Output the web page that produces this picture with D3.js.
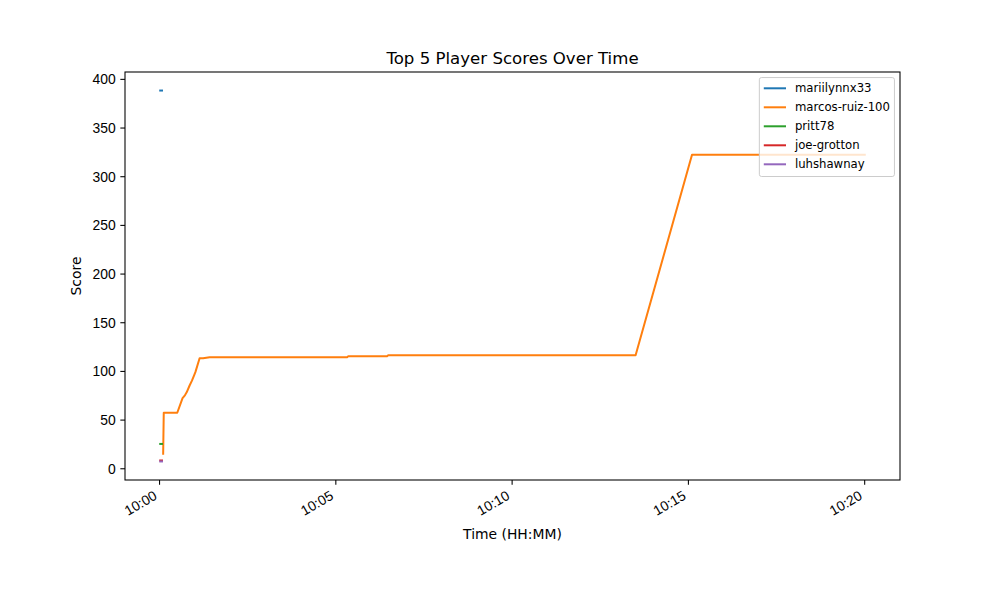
<!DOCTYPE html>
<html>
<head>
<meta charset="utf-8">
<script src="https://cdn.jsdelivr.net/npm/d3@7"></script>
<style>
  html, body { margin: 0; padding: 0; background: #fff; }
  svg { display: block; font-family: "DejaVu Sans", sans-serif; }
</style>
</head>
<body>
<svg id="chart" width="1000" height="600"></svg>
<script>
// ---- data ----
const players = ["mariilynnx33", "marcos-ruiz-100", "pritt78", "joe-grotton", "luhshawnay"];
const colors = ["#1f77b4", "#ff7f0e", "#2ca02c", "#d62728", "#9467bd"];

const mariilynnxTimes = ["10:00:02", "10:00:05"];
const mariilynnxScores = [388, 388];

const marcosTimes = ["10:00:07", "10:00:08", "10:00:31", "10:00:40", "10:00:44", "10:00:47",
  "10:00:52", "10:00:56", "10:01:00", "10:01:02", "10:01:09", "10:01:15", "10:01:26",
  "10:05:20", "10:05:22", "10:06:28", "10:06:30", "10:13:31", "10:15:07", "10:20:01"];
const marcosScores = [15, 57, 57, 72, 75, 78, 85, 90, 96, 99, 113, 113, 114,
  114, 115, 115, 116, 116, 322, 322];

const prittTimes = ["10:00:02", "10:00:05"];
const prittScores = [25, 25];

const joeTimes = ["10:00:02", "10:00:05"];
const joeScores = [8, 8];

const luhTimes = ["10:00:02", "10:00:05"];
const luhScores = [7, 7];

const xTickLabels = ["10:00", "10:05", "10:10", "10:15", "10:20"];
const yTickValues = [0, 50, 100, 150, 200, 250, 300, 350, 400];

const titleText = "Top 5 Player Scores Over Time";
const xLabelText = "Time (HH:MM)";
const yLabelText = "Score";

// ---- build ----
const parseTime = d3.timeParse("%Y-%m-%d %H:%M:%S");
const day = "2024-01-01 ";
function mk(times, scores) {
  return times.map((t, i) => ({ t: parseTime(day + t), v: scores[i] }));
}
const series = [
  mk(mariilynnxTimes, mariilynnxScores),
  mk(marcosTimes, marcosScores),
  mk(prittTimes, prittScores),
  mk(joeTimes, joeScores),
  mk(luhTimes, luhScores)
];

const W = 1000, H = 600;
const L = 125, R = 900, T = 72, B = 480;

const all = series.flat();
const tExt = d3.extent(all, d => +d.t);
const vExt = d3.extent(all, d => d.v);
const tPad = (tExt[1] - tExt[0]) * 0.05;
const vPad = (vExt[1] - vExt[0]) * 0.05;

const x = d3.scaleTime().domain([new Date(tExt[0] - tPad), new Date(tExt[1] + tPad)]).range([L, R]);
const y = d3.scaleLinear().domain([vExt[0] - vPad, vExt[1] + vPad]).range([B, T]);

const svg = d3.select("#chart");
svg.append("rect").attr("width", W).attr("height", H).attr("fill", "#fff");

const clipId = "plotclip";
svg.append("clipPath").attr("id", clipId).append("rect")
  .attr("x", L).attr("y", T).attr("width", R - L).attr("height", B - T);

// lines
const line = d3.line().x(d => x(d.t)).y(d => y(d.v));
const gLines = svg.append("g").attr("clip-path", `url(#${clipId})`);
series.forEach((s, i) => {
  gLines.append("path")
    .datum(s)
    .attr("d", line)
    .attr("fill", "none")
    .attr("stroke", colors[i])
    .attr("stroke-width", 2)
    .attr("stroke-linejoin", "round")
    .attr("stroke-linecap", "square");
});

// axes
const fs = 13.9;
const xTicks = xTickLabels.map(s => parseTime(day + s + ":00"));
const xAxis = d3.axisBottom(x).tickValues(xTicks).tickFormat(d3.timeFormat("%H:%M"))
  .tickSizeInner(4.67).tickSizeOuter(0).tickPadding(4.67);
const gx = svg.append("g").attr("transform", `translate(0,${B})`).call(xAxis);
gx.select(".domain").remove();
gx.selectAll(".tick line").attr("stroke", "#000").attr("stroke-width", 1.07);
gx.selectAll(".tick text")
  .attr("font-size", fs).attr("fill", "#000")
  .attr("text-anchor", "end")
  .attr("x", null).attr("y", null).attr("dy", null)
  .attr("transform", "translate(-1.5,18.5) rotate(-30)");

const yAxis = d3.axisLeft(y).tickValues(yTickValues).tickSizeInner(4.67).tickSizeOuter(0).tickPadding(4.67);
const gy = svg.append("g").attr("transform", `translate(${L},0)`).call(yAxis);
gy.select(".domain").remove();
gy.selectAll(".tick line").attr("stroke", "#000").attr("stroke-width", 1.07);
gy.selectAll(".tick text").attr("font-size", fs).attr("fill", "#000").attr("dy", "0.36em");

// spines
svg.append("rect").attr("x", L).attr("y", T).attr("width", R - L).attr("height", B - T)
  .attr("fill", "none").attr("stroke", "#000").attr("stroke-width", 1.07);

// labels
svg.append("text").attr("x", (L + R) / 2).attr("y", 63.5).attr("text-anchor", "middle")
  .attr("font-size", 16.6).text(titleText);
svg.append("text").attr("x", (L + R) / 2).attr("y", 539).attr("text-anchor", "middle")
  .attr("font-size", fs).text(xLabelText);
svg.append("text").attr("transform", `translate(81,${(T + B) / 2}) rotate(-90)`)
  .attr("text-anchor", "middle").attr("font-size", fs).text(yLabelText);

// legend
const lfs = 11.7;
const gLeg = svg.append("g");
const frame = gLeg.append("rect");
const texts = [];
players.forEach((p, i) => {
  const t = gLeg.append("text").attr("font-size", lfs).attr("dy", "0.35em").text(p);
  texts.push(t);
});
const maxW = d3.max(texts, t => t.node().getComputedTextLength());
const unit = 11.11;
const pad = 0.4 * unit, hl = 2.0 * unit, htp = 0.8 * unit, bap = 0.5 * unit;
const rowH = 19;
const legW = pad * 2 + hl + htp + maxW;
const legH = pad * 2 + rowH * players.length - 0.5 * unit + 0.6;
const lx = R - bap - legW, ly = T + bap;
frame.attr("x", lx).attr("y", ly).attr("width", legW).attr("height", legH)
  .attr("rx", 2.2).attr("fill", "#fff").attr("fill-opacity", 0.8)
  .attr("stroke", "#cccccc").attr("stroke-width", 1);
players.forEach((p, i) => {
  const cy = ly + pad + 6.3 + i * rowH;
  gLeg.append("line").attr("x1", lx + pad).attr("x2", lx + pad + hl)
    .attr("y1", cy).attr("y2", cy).attr("stroke", colors[i]).attr("stroke-width", 2);
  texts[i].attr("x", lx + pad + hl + htp).attr("y", cy);
});
</script>
</body>
</html>
